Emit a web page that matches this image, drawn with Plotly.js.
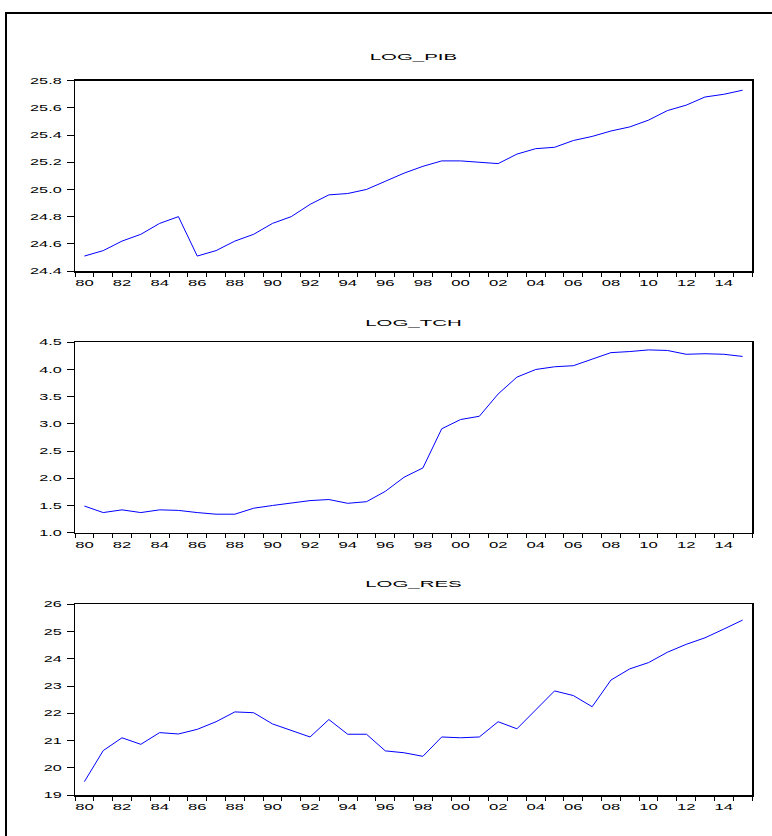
<!DOCTYPE html>
<html>
<head>
<meta charset="utf-8">
<script src="https://cdn.plot.ly/plotly-3.0.1.min.js"></script>
<style>
  html, body { margin: 0; padding: 0; background: #ffffff; }
  #chart { width: 772px; height: 836px; }
</style>
</head>
<body>
<div id="chart"></div>
<script>
// Annual observations, 1980-2015
const years = [1980, 1981, 1982, 1983, 1984, 1985, 1986, 1987, 1988, 1989,
               1990, 1991, 1992, 1993, 1994, 1995, 1996, 1997, 1998, 1999,
               2000, 2001, 2002, 2003, 2004, 2005, 2006, 2007, 2008, 2009,
               2010, 2011, 2012, 2013, 2014, 2015];

const logPib = [24.51, 24.55, 24.62, 24.67, 24.75, 24.80, 24.51, 24.55, 24.62, 24.67,
                24.75, 24.80, 24.89, 24.96, 24.97, 25.00, 25.06, 25.12, 25.17, 25.21,
                25.21, 25.20, 25.19, 25.26, 25.30, 25.31, 25.36, 25.39, 25.43, 25.46,
                25.51, 25.58, 25.62, 25.68, 25.70, 25.73];

const logTch = [1.49, 1.37, 1.42, 1.37, 1.42, 1.41, 1.37, 1.34, 1.34, 1.45,
                1.50, 1.55, 1.59, 1.61, 1.54, 1.57, 1.76, 2.02, 2.19, 2.91,
                3.08, 3.14, 3.55, 3.86, 4.00, 4.05, 4.07, 4.19, 4.31, 4.33,
                4.36, 4.35, 4.28, 4.29, 4.28, 4.24];

const logRes = [19.49, 20.63, 21.10, 20.86, 21.29, 21.24, 21.41, 21.69, 22.05, 22.02,
                21.61, 21.36, 21.13, 21.77, 21.23, 21.23, 20.62, 20.55, 20.42, 21.13,
                21.10, 21.13, 21.69, 21.43, 22.14, 22.82, 22.65, 22.24, 23.22, 23.63,
                23.86, 24.24, 24.53, 24.77, 25.09, 25.42];

// Year labels shown every second year
const yearLabels = ['80', '82', '84', '86', '88', '90', '92', '94', '96', '98',
                    '00', '02', '04', '06', '08', '10', '12', '14'];
const labelYears = [1980, 1982, 1984, 1986, 1988, 1990, 1992, 1994, 1996, 1998,
                    2000, 2002, 2004, 2006, 2008, 2010, 2012, 2014];

const panelTitles = ['LOG_PIB', 'LOG_TCH', 'LOG_RES'];
const seriesList = [logPib, logTch, logRes];
const yRanges = [[24.4, 25.8], [1.0, 4.5], [19, 26]];
const yTicks = [
  {vals: [24.4, 24.6, 24.8, 25.0, 25.2, 25.4, 25.6, 25.8], fmt: '.1f'},
  {vals: [1.0, 1.5, 2.0, 2.5, 3.0, 3.5, 4.0, 4.5], fmt: '.1f'},
  {vals: [19, 20, 21, 22, 23, 24, 25, 26], fmt: 'd'}
];

const W = 772, H = 836;
const xDomain = [75 / W, 752 / W];
const yDomains = [
  [1 - 271 / H, 1 - 80.7 / H],
  [1 - 532.7 / H, 1 - 342.3 / H],
  [1 - 795 / H, 1 - 604.3 / H]
];
const titleY = [1 - 57 / H, 1 - 322 / H, 1 - 583 / H];

const tickFont = {family: 'Liberation Sans, Arial, sans-serif', size: 9, color: '#000000'};

const traces = [];
const layout = {
  width: W, height: H,
  margin: {l: 0, r: 0, t: 0, b: 0},
  paper_bgcolor: '#ffffff',
  plot_bgcolor: '#ffffff',
  showlegend: false,
  annotations: [],
  shapes: [{
    type: 'rect', xref: 'paper', yref: 'paper',
    x0: 6 / W, x1: 1.02, y0: -0.02, y1: 1 - 13 / H,
    line: {color: '#000000', width: 2}
  }]
};

seriesList.forEach((vals, i) => {
  const n = i + 1;
  const xa = n === 1 ? 'x' : 'x' + n;
  const ya = n === 1 ? 'y' : 'y' + n;
  traces.push({
    x: years, y: vals, xaxis: xa, yaxis: ya,
    type: 'scatter', mode: 'lines',
    line: {color: '#0000ff', width: 1},
    hoverinfo: 'skip'
  });
  const xKey = n === 1 ? 'xaxis' : 'xaxis' + n;
  const yKey = n === 1 ? 'yaxis' : 'yaxis' + n;
  layout[xKey] = {
    domain: xDomain, anchor: ya,
    range: [1979.5, 2015.5],
    // labels sit mid-year; tick marks fall on the year boundaries
    tickmode: 'array',
    tickvals: labelYears,
    ticktext: yearLabels,
    ticks: '',
    ticklabelstandoff: 3,
    minor: {tickmode: 'linear', tick0: 1979.5, dtick: 1, ticks: 'outside',
            ticklen: 4, tickwidth: 1, tickcolor: '#000000', showgrid: false},
    showline: true, linecolor: '#000000', linewidth: 1.5, mirror: true,
    showgrid: false, zeroline: false,
    tickfont: tickFont, fixedrange: true
  };
  layout[yKey] = {
    domain: yDomains[i], anchor: xa,
    range: yRanges[i],
    tickmode: 'array',
    tickvals: yTicks[i].vals,
    tickformat: yTicks[i].fmt,
    ticks: 'outside', ticklen: 7, tickwidth: 1, tickcolor: '#000000',
    ticklabelstandoff: 3,
    showline: true, linecolor: '#000000', linewidth: 1.5, mirror: true,
    showgrid: false, zeroline: false,
    tickfont: tickFont, fixedrange: true
  };
  layout.annotations.push({
    text: panelTitles[i],
    xref: 'paper', yref: 'paper',
    x: (xDomain[0] + xDomain[1]) / 2, y: titleY[i],
    xanchor: 'center', yanchor: 'middle',
    showarrow: false,
    font: {family: 'Liberation Sans, Arial, sans-serif', size: 9.5, color: '#000000'}
  });
});

// Widen glyphs horizontally, as in the EViews-style output
function widenText(gd) {
  const stretch = (sel, f) => {
    gd.querySelectorAll(sel).forEach(t => {
      const w = t.getComputedTextLength();
      if (w > 0) {
        t.setAttribute('textLength', (w * f).toFixed(2));
        t.setAttribute('lengthAdjust', 'spacingAndGlyphs');
      }
    });
  };
  stretch('.xaxislayer-above text', 1.85);
  stretch('.yaxislayer-above text', 1.8);
  stretch('.annotation-text', 2.15);
}

Plotly.newPlot('chart', traces, layout, {staticPlot: true, displayModeBar: false})
  .then(gd => widenText(gd));
</script>
</body>
</html>
